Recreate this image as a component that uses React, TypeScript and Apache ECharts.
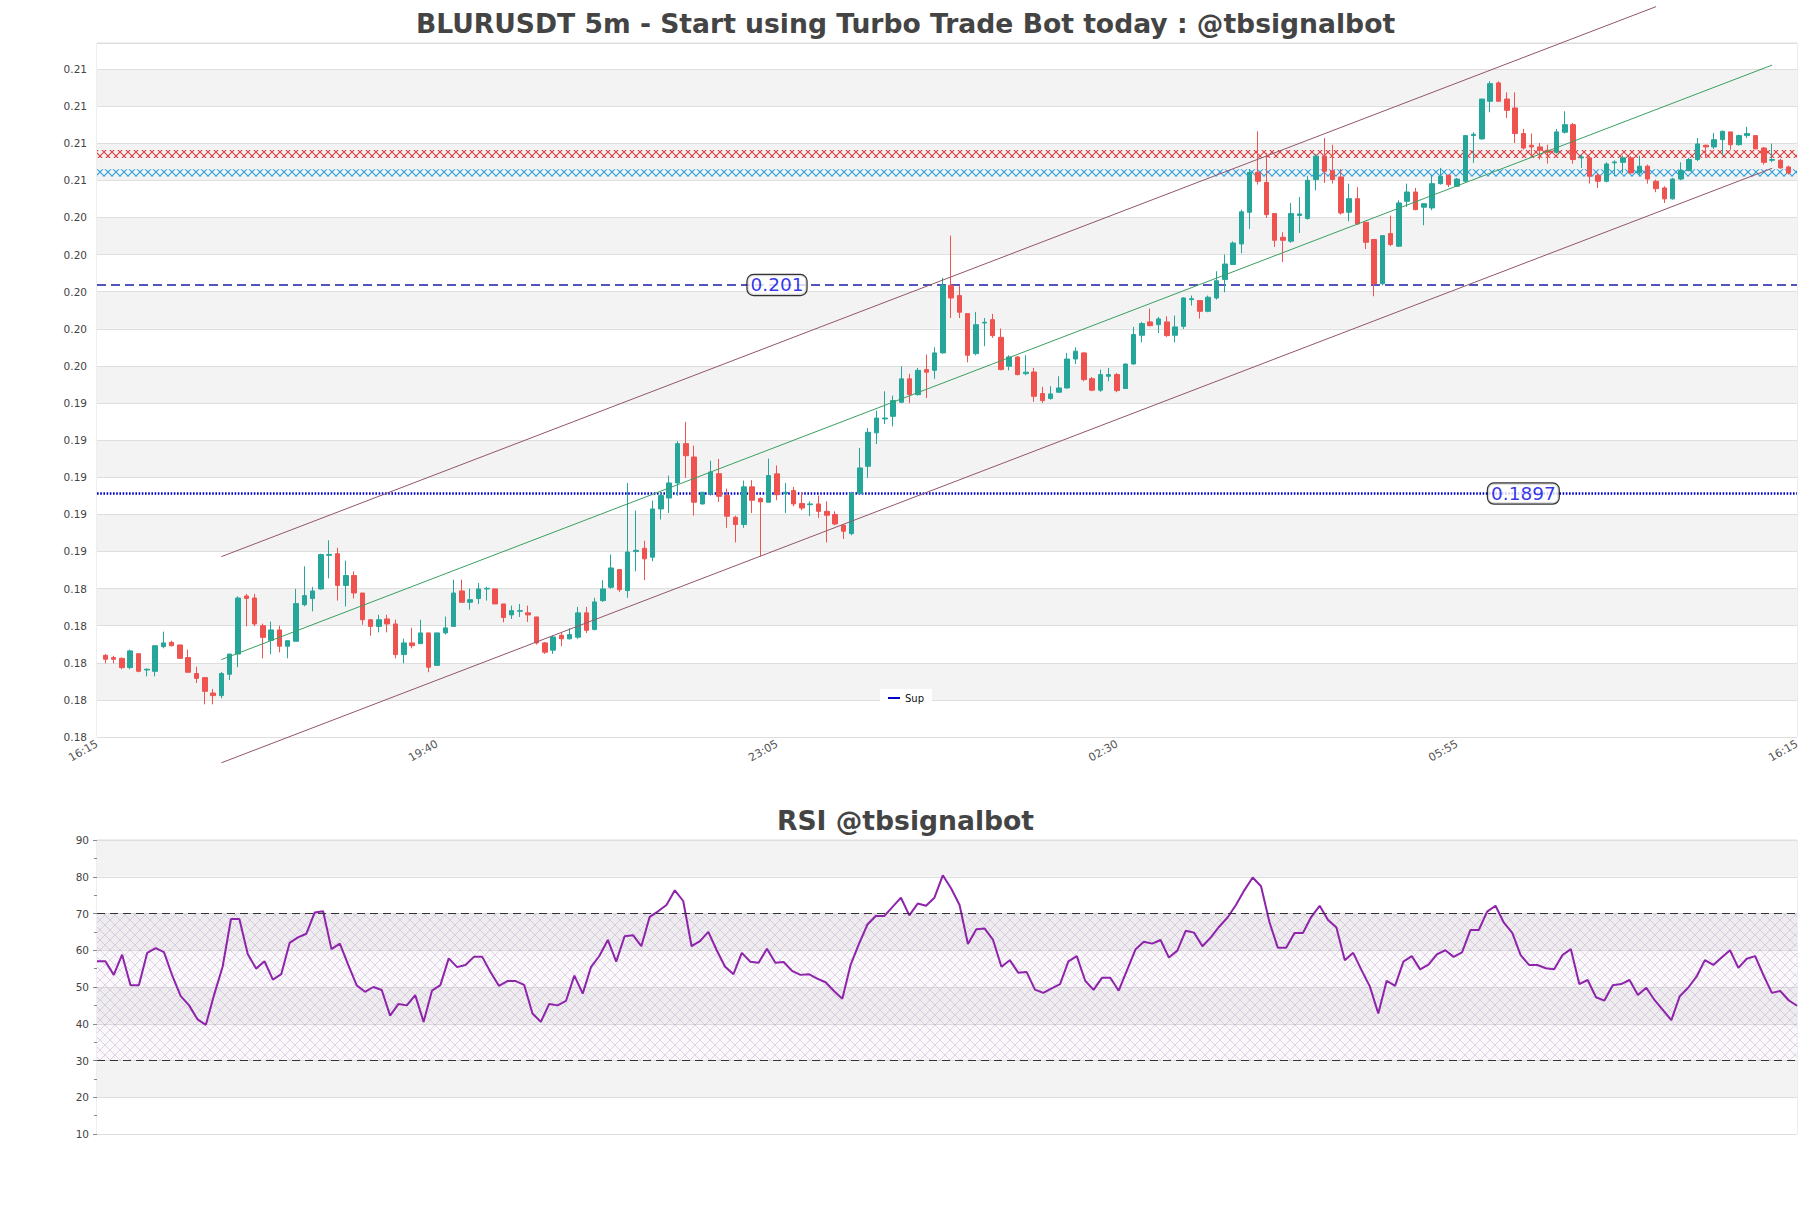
import React, { useEffect, useRef } from 'react';
import * as echarts from 'echarts';

const mainTitle = 'BLURUSDT 5m - Start using Turbo Trade Bot today : @tbsignalbot';
const rsiTitle = 'RSI @tbsignalbot';
const xTickLabels = ['16:15', '19:40', '23:05', '02:30', '05:55', '16:15'];

// [open, close, low, high]
const candles: number[][] = [
  [0.18098, 0.18077, 0.18055, 0.18105], [0.18086, 0.18077, 0.18055, 0.18096], [0.18082, 0.18032, 0.18023, 0.18086],
  [0.18032, 0.18122, 0.18023, 0.18129], [0.18107, 0.18012, 0.18007, 0.18107], [0.18019, 0.18023, 0.17985, 0.18028],
  [0.18012, 0.1815, 0.17985, 0.18154], [0.18145, 0.18165, 0.18136, 0.18226], [0.18168, 0.1815, 0.18147, 0.18177],
  [0.18154, 0.18082, 0.18082, 0.18154], [0.18086, 0.18007, 0.18007, 0.18129], [0.18, 0.17974, 0.17949, 0.18037],
  [0.17978, 0.17904, 0.17834, 0.17978], [0.17895, 0.17881, 0.17834, 0.17917], [0.17881, 0.18, 0.17867, 0.18009],
  [0.17996, 0.18105, 0.17965, 0.18105], [0.18105, 0.18407, 0.18034, 0.18416], [0.18418, 0.18405, 0.18255, 0.18429],
  [0.18407, 0.18267, 0.18255, 0.18429], [0.18258, 0.18195, 0.18082, 0.18269], [0.18179, 0.18235, 0.18104, 0.1828],
  [0.18235, 0.18147, 0.18114, 0.18258], [0.18147, 0.18177, 0.18082, 0.18177], [0.18174, 0.18377, 0.18174, 0.18456],
  [0.18371, 0.1842, 0.18362, 0.18578], [0.18404, 0.18445, 0.18335, 0.18467], [0.18456, 0.18641, 0.18452, 0.18646],
  [0.18637, 0.18642, 0.18513, 0.18718], [0.18646, 0.18475, 0.18393, 0.18678], [0.18475, 0.18528, 0.18362, 0.18608],
  [0.18528, 0.18434, 0.18405, 0.18551], [0.18434, 0.1829, 0.18263, 0.18434], [0.1829, 0.18254, 0.18204, 0.18294],
  [0.18254, 0.1829, 0.18222, 0.18317], [0.18294, 0.18267, 0.18222, 0.18317], [0.18267, 0.18102, 0.18082, 0.1829],
  [0.18102, 0.18165, 0.18055, 0.18188], [0.18165, 0.1815, 0.18136, 0.18247], [0.18161, 0.18219, 0.18161, 0.1829],
  [0.18219, 0.18034, 0.18007, 0.18219], [0.18044, 0.18219, 0.18044, 0.18219], [0.18219, 0.18246, 0.1821, 0.18307],
  [0.18254, 0.18434, 0.18254, 0.18506], [0.18445, 0.18384, 0.18384, 0.18506], [0.18384, 0.18398, 0.18344, 0.18458],
  [0.18404, 0.18456, 0.18375, 0.18488], [0.18456, 0.18459, 0.18393, 0.18467], [0.18456, 0.18375, 0.18375, 0.18458],
  [0.18375, 0.18302, 0.18276, 0.18375], [0.18316, 0.18339, 0.18294, 0.18366], [0.18336, 0.18339, 0.18305, 0.18375],
  [0.18327, 0.18316, 0.18278, 0.18366], [0.18305, 0.18165, 0.18156, 0.18305], [0.18165, 0.18115, 0.18106, 0.1817],
  [0.18126, 0.18197, 0.18106, 0.18205], [0.18206, 0.18187, 0.18147, 0.18219], [0.18187, 0.1821, 0.18183, 0.18244],
  [0.18196, 0.18327, 0.18187, 0.18359], [0.18327, 0.18233, 0.18219, 0.18359], [0.18237, 0.18386, 0.18233, 0.18408],
  [0.18393, 0.18456, 0.18386, 0.18503], [0.18465, 0.18569, 0.18456, 0.18641], [0.1856, 0.18452, 0.1844, 0.1856],
  [0.18447, 0.18655, 0.18408, 0.19027], [0.18657, 0.18664, 0.18551, 0.18878], [0.18675, 0.18618, 0.18503, 0.18716],
  [0.18627, 0.18887, 0.18605, 0.18932], [0.18887, 0.18959, 0.1883, 0.18977], [0.18946, 0.19027, 0.18865, 0.19067],
  [0.19027, 0.19239, 0.18959, 0.19252], [0.19239, 0.19174, 0.19054, 0.19356], [0.19167, 0.18923, 0.18851, 0.19228],
  [0.18914, 0.18977, 0.1891, 0.18977], [0.1897, 0.19086, 0.18959, 0.19147], [0.19077, 0.18955, 0.18925, 0.19156],
  [0.18959, 0.18848, 0.18785, 0.18997], [0.18842, 0.18803, 0.18707, 0.18851], [0.18803, 0.19006, 0.18785, 0.1904],
  [0.19006, 0.18934, 0.18865, 0.19042], [0.18943, 0.18925, 0.18632, 0.1895], [0.18923, 0.19067, 0.18923, 0.19158],
  [0.19076, 0.18964, 0.18934, 0.19121], [0.1897, 0.18977, 0.18865, 0.19027], [0.18986, 0.18914, 0.18901, 0.19006],
  [0.18916, 0.18892, 0.1888, 0.18977], [0.1891, 0.18914, 0.18848, 0.18928], [0.18914, 0.18874, 0.18839, 0.18959],
  [0.18874, 0.18853, 0.18707, 0.18928], [0.18857, 0.18806, 0.18799, 0.18874], [0.18799, 0.18767, 0.18725, 0.18806],
  [0.18754, 0.1897, 0.18745, 0.18979], [0.1897, 0.19108, 0.18968, 0.19216], [0.19117, 0.193, 0.19054, 0.19323],
  [0.19297, 0.19377, 0.19237, 0.19417], [0.19372, 0.19377, 0.19345, 0.19521], [0.19386, 0.19471, 0.19332, 0.19498],
  [0.19462, 0.19588, 0.19458, 0.19656], [0.19588, 0.19503, 0.19458, 0.19615], [0.19503, 0.19634, 0.19498, 0.19647],
  [0.19638, 0.19624, 0.19485, 0.19719], [0.19634, 0.19728, 0.19588, 0.19758], [0.19728, 0.20092, 0.19724, 0.20132],
  [0.20092, 0.20024, 0.19916, 0.2036], [0.20037, 0.19947, 0.19916, 0.20091], [0.1994, 0.19715, 0.19677, 0.1994],
  [0.19724, 0.1988, 0.19715, 0.19949], [0.19889, 0.19893, 0.19764, 0.19916], [0.19907, 0.19821, 0.19809, 0.19938],
  [0.19812, 0.19638, 0.19634, 0.19859], [0.19656, 0.19706, 0.19634, 0.19715], [0.19706, 0.19611, 0.19607, 0.1971],
  [0.19616, 0.19624, 0.19607, 0.19715], [0.19625, 0.19494, 0.19464, 0.19647], [0.19509, 0.19471, 0.19458, 0.19545],
  [0.19482, 0.19507, 0.19476, 0.19548], [0.19516, 0.19539, 0.19512, 0.19602], [0.19539, 0.19695, 0.19536, 0.19728],
  [0.19695, 0.19737, 0.19668, 0.19758], [0.19728, 0.19584, 0.19575, 0.19731], [0.19589, 0.19527, 0.19521, 0.19598],
  [0.19527, 0.19611, 0.19518, 0.19638], [0.19602, 0.19611, 0.19575, 0.19647], [0.19611, 0.19525, 0.19516, 0.1962],
  [0.19536, 0.19668, 0.19536, 0.1967], [0.19668, 0.19827, 0.19665, 0.19868], [0.19823, 0.19886, 0.19785, 0.19895],
  [0.19895, 0.19875, 0.19871, 0.19967], [0.1988, 0.19911, 0.19835, 0.19922], [0.19895, 0.19821, 0.19814, 0.19925],
  [0.19823, 0.19868, 0.19785, 0.19929], [0.19871, 0.20024, 0.19857, 0.20029], [0.20015, 0.2002, 0.19983, 0.20037],
  [0.2001, 0.19952, 0.19913, 0.2001], [0.19952, 0.20028, 0.19947, 0.20037], [0.20024, 0.20117, 0.20015, 0.20168],
  [0.20123, 0.20207, 0.20055, 0.20258], [0.20204, 0.2032, 0.20204, 0.20329], [0.20315, 0.20488, 0.20265, 0.205],
  [0.20486, 0.20701, 0.20396, 0.20719], [0.20701, 0.20653, 0.20635, 0.20922], [0.20647, 0.20473, 0.20455, 0.20806],
  [0.20479, 0.20335, 0.20299, 0.20479], [0.20351, 0.20335, 0.20218, 0.20378], [0.2033, 0.20479, 0.20321, 0.20536],
  [0.20468, 0.20477, 0.20374, 0.20568], [0.20452, 0.20658, 0.20446, 0.20683], [0.20662, 0.20788, 0.20604, 0.208],
  [0.20788, 0.20707, 0.20644, 0.20886], [0.2071, 0.20662, 0.2064, 0.2085], [0.20676, 0.20482, 0.20473, 0.20719],
  [0.20486, 0.20559, 0.20437, 0.2064], [0.20559, 0.20423, 0.20419, 0.20621], [0.20432, 0.20324, 0.20288, 0.20432],
  [0.20339, 0.20101, 0.20033, 0.20339], [0.20101, 0.2036, 0.20092, 0.2036], [0.20371, 0.20312, 0.20303, 0.20468],
  [0.20303, 0.20536, 0.20299, 0.2055], [0.20545, 0.20595, 0.20515, 0.2064], [0.20595, 0.205, 0.20497, 0.20617],
  [0.20513, 0.20532, 0.20416, 0.20536], [0.20509, 0.2064, 0.20497, 0.20689], [0.2064, 0.2068, 0.20635, 0.20725],
  [0.20685, 0.20635, 0.20622, 0.20689], [0.20626, 0.20665, 0.20622, 0.20671], [0.20653, 0.20899, 0.20644, 0.20899],
  [0.20899, 0.20906, 0.20752, 0.20917], [0.20881, 0.21096, 0.20877, 0.21096], [0.21084, 0.21179, 0.21025, 0.21192],
  [0.21183, 0.21084, 0.21084, 0.21192], [0.21096, 0.21035, 0.20994, 0.21132], [0.21048, 0.2091, 0.20859, 0.21132],
  [0.2091, 0.20832, 0.20823, 0.20935], [0.20847, 0.20838, 0.20788, 0.2091], [0.20838, 0.2082, 0.2077, 0.20859],
  [0.2082, 0.20809, 0.20748, 0.2085], [0.20809, 0.20919, 0.20802, 0.20935], [0.20917, 0.20958, 0.2091, 0.2103],
  [0.20958, 0.2077, 0.20748, 0.20967], [0.20779, 0.20784, 0.20725, 0.20797], [0.20779, 0.2068, 0.2064, 0.20788],
  [0.20685, 0.20653, 0.20617, 0.20698], [0.20653, 0.20746, 0.20647, 0.20755], [0.20752, 0.20757, 0.2068, 0.20766],
  [0.20755, 0.20779, 0.20698, 0.20791], [0.20779, 0.20698, 0.20694, 0.20788], [0.20698, 0.20734, 0.2068, 0.20791],
  [0.20734, 0.20665, 0.2064, 0.20743], [0.20653, 0.20613, 0.20594, 0.20662], [0.20617, 0.20558, 0.20536, 0.20626],
  [0.20558, 0.20665, 0.20554, 0.20671], [0.20665, 0.2071, 0.20658, 0.20755], [0.2071, 0.2077, 0.20707, 0.20779],
  [0.2077, 0.20854, 0.20761, 0.20886], [0.20847, 0.20838, 0.20779, 0.2085], [0.20838, 0.20877, 0.20827, 0.20913],
  [0.20877, 0.20922, 0.20791, 0.20926], [0.20919, 0.2085, 0.20823, 0.20919], [0.2085, 0.20899, 0.20845, 0.20904],
  [0.20899, 0.2091, 0.20886, 0.20946], [0.20899, 0.20827, 0.20827, 0.20899], [0.20832, 0.20755, 0.20743, 0.20838],
  [0.20766, 0.2077, 0.20755, 0.20856], [0.20766, 0.20725, 0.20719, 0.20773], [0.2073, 0.20698, 0.20689, 0.20737],
];

const rsiValues: number[] = [
  57, 57, 53.3, 58.8, 50.5, 50.5, 59.3, 60.6, 59.5, 53, 47.5, 45, 41.2, 39.7, 48, 55.5, 68.5, 68.5, 59, 55,
  57, 52, 53.5, 62, 63.5, 64.5, 70.3, 70.6, 60.3, 61.8, 56, 50.5, 48.7, 50, 49.2, 42.2, 45.4, 45, 47.8, 40.5,
  49, 50.5, 57.8, 55.4, 56, 58.2, 58.2, 54, 50.3, 51.6, 51.6, 50.6, 42.8, 40.5, 45.4, 45, 46.2, 53.1, 48.2, 55.5,
  58.5, 62.8, 56.9, 63.8, 64.1, 61.1, 69.1, 70.6, 72.3, 76.3, 73.4, 61.1, 62.5, 65, 60, 55.5, 53.5, 59.3, 56.9, 56.6,
  60.4, 56.6, 56.8, 54.4, 53.3, 53.5, 52.3, 51.3, 48.9, 46.8, 56.1, 61.8, 67, 69.3, 69.3, 71.8, 74.3, 69.5, 72.7, 72.1,
  74.3, 80.4, 76.8, 72.3, 61.7, 65.7, 65.9, 62.8, 55.5, 57.3, 53.9, 54.1, 49.3, 48.4, 49.6, 50.8, 57, 58.4, 51.7, 49.2,
  52.5, 52.5, 49, 54.6, 60.2, 62.3, 61.8, 62.8, 58, 59.9, 65.3, 64.8, 61.1, 63.5, 66.4, 68.9, 72.3, 76.3, 79.8, 77.4,
  67.7, 60.7, 60.7, 64.7, 64.7, 69.1, 72.1, 68.2, 66.2, 57.3, 59.3, 54.6, 50.1, 42.8, 51.7, 50.3, 56.9, 58.4, 54.8, 56.1,
  58.9, 60, 58.2, 59.4, 65.5, 65.5, 70.5, 72.1, 67.5, 64.7, 58.7, 56, 56, 55.1, 54.8, 58.7, 60.3, 50.8, 51.9, 47.2,
  46.3, 50.5, 50.8, 51.9, 47.8, 49.8, 46.4, 43.7, 41, 47.5, 49.8, 52.8, 57.3, 56, 58, 60, 55.2, 57.7, 58.4, 53.2,
  48.4, 48.9, 46.4, 44.9,
];

// trend channel (bar index, price)
const channelX = [14, 201];
const channelUpperX = [14, 187];
const channelMid = [0.18075, 0.21279];
const channelUpper = [0.1863, 0.21594];
const channelLower = [0.17519, 0.20723];

const resistanceZone = [0.20778, 0.20822];
const supportZone = [0.20678, 0.20718];

const levelValues = [0.20094, 0.1897];
const levelTexts = ['0.201', '0.1897'];
const levelLabelX = [81, 171];

const rsiLevels = [70, 30];
const rsiZone = [30, 70];

const FONT = 'DejaVu Sans';

function hatch(color: string, size: number, lw: number, bg?: string) {
  const c = document.createElement('canvas');
  c.width = size;
  c.height = size;
  const ctx = c.getContext('2d')!;
  if (bg) {
    ctx.fillStyle = bg;
    ctx.fillRect(0, 0, size, size);
  }
  ctx.strokeStyle = color;
  ctx.lineWidth = lw;
  ctx.beginPath();
  ctx.moveTo(0, 0);
  ctx.lineTo(size, size);
  ctx.moveTo(size, 0);
  ctx.lineTo(0, size);
  ctx.stroke();
  return { image: c.toDataURL(), repeat: 'repeat', imageWidth: size, imageHeight: size };
}

function buildOption(): any {
  const n = candles.length;
  const redPat: any = { ...hatch('#e23b3b', 8, 1.1), y: 150 };
  const bluePat: any = { ...hatch('#2aa0e0', 8, 1.1), y: 170 };
  const rsiPat: any = hatch('rgba(150,110,170,0.35)', 10, 0.8, 'rgba(130,80,160,0.04)');

  return {
    animation: false,
    backgroundColor: '#ffffff',
    textStyle: { fontFamily: FONT },
    title: [
      {
        text: mainTitle,
        left: 'center',
        top: 5,
        textStyle: { fontSize: 26.6, fontWeight: 'bold', color: '#444444', fontFamily: FONT },
      },
      {
        text: rsiTitle,
        left: 'center',
        top: 802,
        textStyle: { fontSize: 26.6, fontWeight: 'bold', color: '#444444', fontFamily: FONT },
      },
    ],
    legend: {
      data: [{ name: 'Sup', icon: 'rect' }],
      left: 880,
      top: 689,
      itemWidth: 12,
      itemHeight: 2,
      itemGap: 4,
      padding: [4, 8],
      backgroundColor: '#ffffff',
      textStyle: { fontSize: 10, color: '#111', fontFamily: FONT },
    },
    grid: [
      { left: 97, top: 43, width: 1700, height: 694, show: true, borderColor: '#dcdcdc', borderWidth: 1, backgroundColor: 'transparent' },
      { left: 97, top: 840, width: 1700, height: 294, show: true, borderColor: '#dcdcdc', borderWidth: 1, backgroundColor: 'transparent' },
    ],
    xAxis: [
      {
        type: 'value',
        gridIndex: 0,
        min: -1,
        max: n,
        interval: (n + 1) / 5,
        axisLine: { show: false },
        axisTick: { show: false },
        splitLine: { show: false },
        axisLabel: {
          rotate: 30,
          fontSize: 11,
          color: '#555',
          margin: 6,
          showMinLabel: true,
          showMaxLabel: true,
          formatter: (v: number) => xTickLabels[Math.round((v + 1) / ((n + 1) / 5))] ?? '',
        },
      },
      {
        type: 'value',
        gridIndex: 1,
        min: 0,
        max: rsiValues.length - 1,
        axisLine: { show: false },
        axisTick: { show: false },
        axisLabel: { show: false },
        splitLine: { show: false },
      },
    ],
    yAxis: [
      {
        type: 'value',
        gridIndex: 0,
        min: 0.17658,
        max: 0.21398,
        interval: 0.002,
        axisLine: { show: false },
        axisTick: { show: false },
        splitLine: { show: true, lineStyle: { color: '#dedede', width: 1 } },
        splitArea: { show: true, areaStyle: { color: ['#ffffff', '#f3f3f3'] } },
        axisLabel: {
          fontSize: 10.5,
          color: '#444',
          margin: 10,
          showMaxLabel: false,
          formatter: (v: number) => v.toFixed(2),
        },
      },
      {
        type: 'value',
        gridIndex: 1,
        min: 10,
        max: 90,
        interval: 10,
        axisLine: { show: false },
        axisTick: { show: true, length: 4, lineStyle: { color: '#888' } },
        minorTick: { show: true, splitNumber: 2, length: 3, lineStyle: { color: '#888' } },
        splitLine: { show: true, lineStyle: { color: '#dedede', width: 1 } },
        splitArea: { show: true, areaStyle: { color: ['#ffffff', '#f3f3f3'] } },
        axisLabel: { fontSize: 10.5, color: '#444', margin: 8 },
      },
    ],
    series: [
      {
        type: 'line',
        xAxisIndex: 0,
        yAxisIndex: 0,
        z: 1,
        silent: true,
        symbol: 'none',
        data: [[-1, levelValues[0]], [n, levelValues[0]]],
        lineStyle: { color: '#1c1ca8', width: 1.5, type: [9, 5] },
        markArea: {
          silent: true,
          data: [
            [{ yAxis: resistanceZone[0], itemStyle: { color: redPat } }, { yAxis: resistanceZone[1] }],
            [{ yAxis: supportZone[0], itemStyle: { color: bluePat } }, { yAxis: supportZone[1] }],
          ],
        },
      },
      {
        name: 'Sup',
        type: 'line',
        xAxisIndex: 0,
        yAxisIndex: 0,
        z: 1,
        silent: true,
        symbol: 'none',
        data: [[-1, levelValues[1]], [n, levelValues[1]]],
        color: '#0000c8',
        lineStyle: { color: '#0000c8', width: 2.5, type: [1.6, 1.6] },
      },
      {
        type: 'candlestick',
        xAxisIndex: 0,
        yAxisIndex: 0,
        z: 2,
        barWidth: 5,
        data: candles.map((c, i) => [i, c[0], c[1], c[2], c[3]]),
        encode: { x: 0, y: [1, 2, 3, 4] },
        itemStyle: {
          color: '#26a69a',
          color0: '#ef5350',
          borderColor: '#26a69a',
          borderColor0: '#ef5350',
          borderWidth: 1,
        },
      },
      {
        type: 'line',
        xAxisIndex: 0,
        yAxisIndex: 0,
        z: 3,
        silent: true,
        clip: false,
        symbol: 'none',
        data: channelX.map((x, i) => [x, channelMid[i]]),
        lineStyle: { color: '#3a9f62', width: 1 },
      },
      {
        type: 'line',
        xAxisIndex: 0,
        yAxisIndex: 0,
        z: 3,
        silent: true,
        clip: false,
        symbol: 'none',
        data: channelUpperX.map((x, i) => [x, channelUpper[i]]),
        lineStyle: { color: '#93566a', width: 1 },
      },
      {
        type: 'line',
        xAxisIndex: 0,
        yAxisIndex: 0,
        z: 3,
        silent: true,
        clip: false,
        symbol: 'none',
        data: channelX.map((x, i) => [x, channelLower[i]]),
        lineStyle: { color: '#93566a', width: 1 },
      },
      {
        type: 'scatter',
        xAxisIndex: 0,
        yAxisIndex: 0,
        z: 10,
        silent: true,
        symbolSize: 1,
        itemStyle: { color: 'rgba(0,0,0,0)' },
        data: levelValues.map((v, i) => ({ value: [levelLabelX[i], v], label: { formatter: levelTexts[i] } })),
        label: {
          show: true,
          position: 'inside',
          color: '#0000e6',
          fontSize: 18.5,
          fontFamily: FONT,
          backgroundColor: '#ffffff',
          borderColor: '#000000',
          borderWidth: 1.2,
          borderRadius: 6,
          padding: [1, 3, 0, 3],
        },
      },
      {
        type: 'line',
        xAxisIndex: 1,
        yAxisIndex: 1,
        z: 3,
        silent: true,
        symbol: 'none',
        data: rsiValues.map((v, i) => [i, v]),
        lineStyle: { color: '#8e24aa', width: 2 },
        markArea: {
          silent: true,
          data: [[{ yAxis: rsiZone[0], itemStyle: { color: rsiPat } }, { yAxis: rsiZone[1] }]],
        },
        markLine: {
          silent: true,
          symbol: 'none',
          label: { show: false },
          lineStyle: { color: '#333333', width: 1.2, type: [8, 5] },
          data: rsiLevels.map((v) => ({ yAxis: v })),
        },
      },
    ],
  };
}

export default function App() {
  const ref = useRef<HTMLDivElement>(null);
  useEffect(() => {
    if (!ref.current) return;
    const chart = echarts.init(ref.current, null, { renderer: 'svg' });
    chart.setOption(buildOption());
    return () => {
      chart.dispose();
    };
  }, []);
  return (
    <div
      ref={ref}
      style={{ position: 'fixed', left: 0, top: 0, width: 1811, height: 1208, background: '#ffffff' }}
    />
  );
}
